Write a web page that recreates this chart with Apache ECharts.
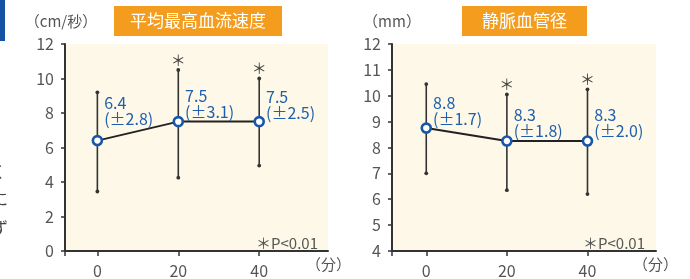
<!DOCTYPE html>
<html>
<head>
<meta charset="utf-8">
<script src="https://cdn.jsdelivr.net/npm/echarts@6/dist/echarts.min.js"></script>
<style>
  html, body { margin: 0; padding: 0; background: #fff; }
  #chart { width: 690px; height: 279px; }
</style>
</head>
<body>
<div id="chart"></div>
<script>
// 経過時間（分）
const times = [0, 20, 40];

// 平均最高血流速度 (cm/秒)
const flowMean = [6.4, 7.5, 7.5];
const flowSd = [2.8, 3.1, 2.5];
const flowLow = [3.45, 4.25, 4.95];
const flowHigh = [9.2, 10.5, 10.0];
const flowSig = [0, 1, 1];

// 静脈血管径 (mm)
const veinMean = [8.75, 8.25, 8.25];
const veinSd = [1.7, 1.8, 2.0];
const veinLow = [7.0, 6.35, 6.2];
const veinHigh = [10.45, 10.05, 10.25];
const veinSig = [0, 1, 1];

const FONT = '"Noto Sans CJK JP", "Noto Sans", sans-serif';
const AXIS = '#333';
const GREY = '#555';
const BLUE = '#1f5fae';

// how far each value label sits above its point (px)
const flowLift = [14, 2, 1];
const veinLift = [1, 2, 2];

function errorBar(params, api) {
  const x = api.value(0);
  const lo = api.coord([x, api.value(1)]);
  const hi = api.coord([x, api.value(2)]);
  const kids = [
    { type: 'line', shape: { x1: lo[0], y1: lo[1], x2: hi[0], y2: hi[1] }, style: { stroke: AXIS, lineWidth: 1.6 } },
    { type: 'circle', shape: { cx: lo[0], cy: lo[1], r: 1.9 }, style: { fill: AXIS } },
    { type: 'circle', shape: { cx: hi[0], cy: hi[1], r: 1.9 }, style: { fill: AXIS } }
  ];
  if (api.value(3)) {
    kids.push({
      type: 'text',
      style: { text: '＊', x: hi[0], y: hi[1] - 10, align: 'center', verticalAlign: 'middle', fill: '#444', font: '15px ' + FONT }
    });
  }
  return { type: 'group', children: kids };
}

function meanData(mean, sd, lift) {
  return times.map((t, i) => ({
    value: [t, mean[i]],
    label: {
      formatter: mean[i].toFixed(1) + '\n(±' + sd[i].toFixed(1) + ')',
      offset: [0, -lift[i]]
    }
  }));
}

function barData(low, high, sig) {
  return times.map((t, i) => [t, low[i], high[i], sig[i]]);
}

function xAxisOf(idx, min) {
  return {
    type: 'value', gridIndex: idx, min: min, max: 57,
    splitLine: { show: false },
    axisLine: { onZero: false, lineStyle: { color: AXIS, width: 2 } },
    axisTick: { customValues: [min].concat(times), length: 5, lineStyle: { color: AXIS, width: 1.5 } },
    axisLabel: { customValues: times, margin: 12, fontSize: 16, color: GREY, fontFamily: FONT }
  };
}

function yAxisOf(idx, min, max, interval, name, pad) {
  return {
    type: 'value', gridIndex: idx, min: min, max: max, interval: interval,
    name: name, nameLocation: 'end', nameGap: 15,
    nameTextStyle: { color: GREY, fontSize: 15, fontFamily: FONT, align: 'center', padding: pad },
    splitLine: { show: false },
    axisLine: { onZero: false, lineStyle: { color: AXIS, width: 2 } },
    axisTick: { length: 4, lineStyle: { color: AXIS, width: 1.5 } },
    axisLabel: { margin: 11, fontSize: 16, color: GREY, fontFamily: FONT }
  };
}

function seriesOf(idx, mean, sd, low, high, sig, lift) {
  return [
    {
      type: 'custom', xAxisIndex: idx, yAxisIndex: idx,
      renderItem: errorBar, data: barData(low, high, sig), z: 2
    },
    {
      type: 'line', xAxisIndex: idx, yAxisIndex: idx, z: 3,
      data: meanData(mean, sd, lift),
      symbol: 'circle', symbolSize: 9, showSymbol: true,
      lineStyle: { color: '#222', width: 2 },
      itemStyle: { color: '#fff', borderColor: '#1756a9', borderWidth: 2.6 },
      label: {
        show: true, position: 'right', distance: 1,
        align: 'left', verticalAlign: 'bottom',
        color: BLUE, fontSize: 16, lineHeight: 16, fontFamily: FONT
      },
      emphasis: { disabled: true },
      animation: false
    }
  ];
}

function titleOf(text, left, padX) {
  return {
    text: text, left: left, top: 6,
    backgroundColor: '#f39c1e',
    padding: [5, padX, 5, padX],
    textStyle: { color: '#fff', fontSize: 17, fontWeight: 'normal', lineHeight: 20, fontFamily: FONT }
  };
}

function note(text, x, y, align, size, color) {
  return {
    type: 'text', x: x, y: y,
    style: { text: text, align: align, verticalAlign: 'middle', fill: color || GREY, font: (size || 15) + 'px ' + FONT }
  };
}

const chart = echarts.init(document.getElementById('chart'), null, { renderer: 'canvas' });

chart.setOption({
  animation: false,
  backgroundColor: '#fff',
  title: [
    titleOf('平均最高血流速度', 114, 16),
    titleOf('静脈血管径', 462, 20)
  ],
  grid: [
    { left: 65, top: 44, width: 263, height: 214, show: true, backgroundColor: '#fdf8e7', borderWidth: 0 },
    { left: 392, top: 44, width: 264, height: 214, show: true, backgroundColor: '#fdf8e7', borderWidth: 0 }
  ],
  xAxis: [xAxisOf(0, -8), xAxisOf(1, -8.5)],
  yAxis: [
    yAxisOf(0, 0, 12, 2, '（cm/秒）', [0, 8, 0, 0]),
    yAxisOf(1, 4, 12, 1, '（mm）', [0, 0, 0, 0])
  ],
  series: seriesOf(0, flowMean, flowSd, flowLow, flowHigh, flowSig, flowLift)
    .concat(seriesOf(1, veinMean, veinSd, veinLow, veinHigh, veinSig, veinLift)),
  graphic: [
    { type: 'rect', shape: { x: 0, y: 0, width: 5, height: 41 }, style: { fill: '#1652a3' } },
    note('く', -10, 172, 'left', 16, '#444'),
    note('に', -8, 199, 'left', 16, '#444'),
    note('ず', -8, 228, 'left', 16, '#444'),
    note('＊P<0.01', 318, 243, 'right'),
    note('＊P<0.01', 645, 243, 'right'),
    note('（分）', 306, 264, 'left'),
    note('（分）', 633, 264, 'left')
  ]
});
</script>
</body>
</html>
